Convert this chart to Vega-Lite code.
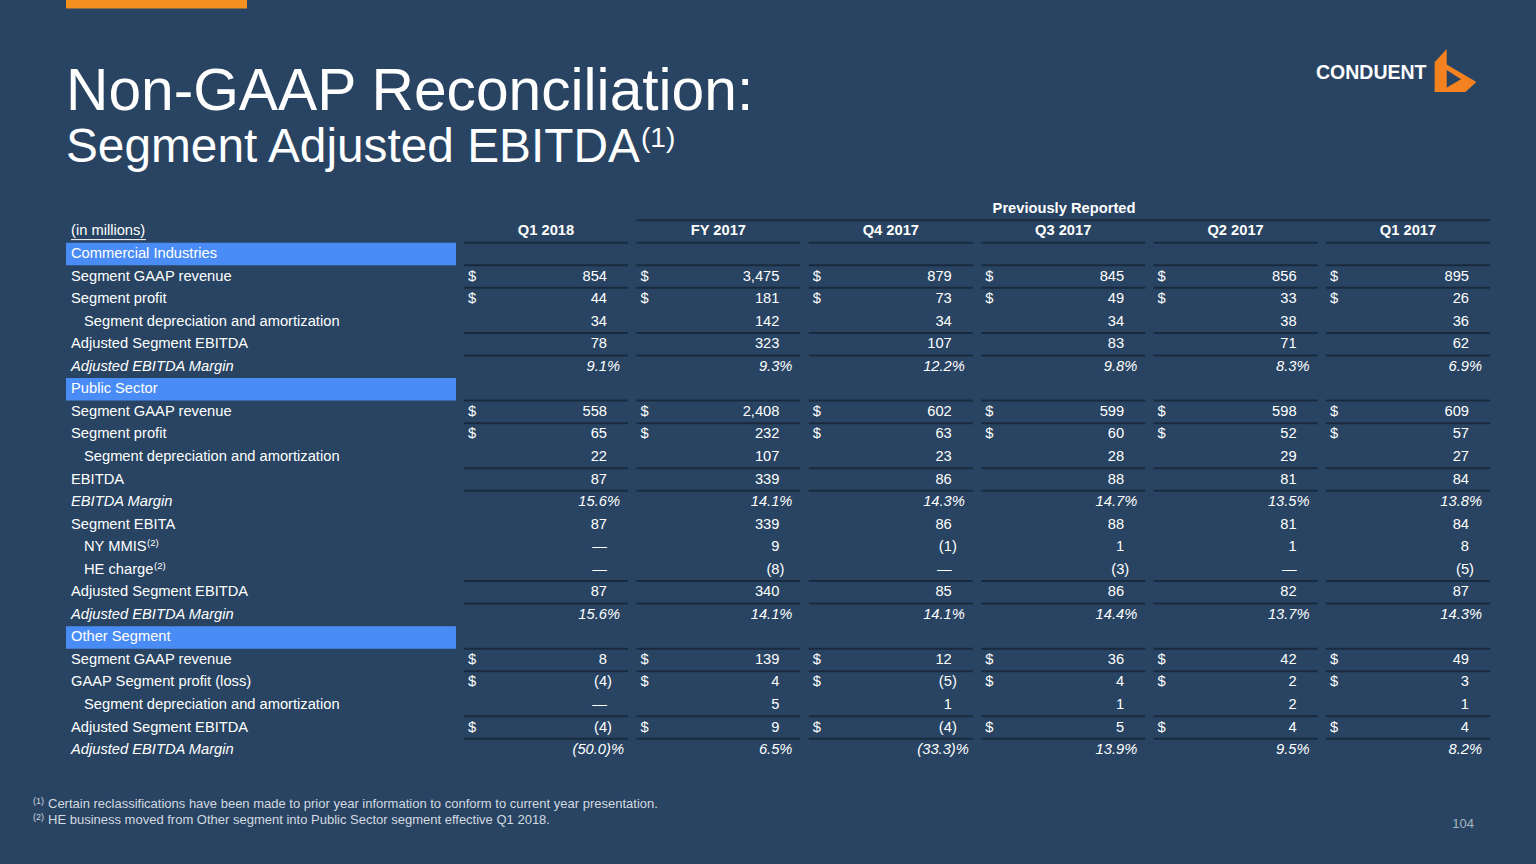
{
  "$schema": "https://vega.github.io/schema/vega-lite/v6.json",
  "width": 1536,
  "height": 864,
  "autosize": "none",
  "padding": 0,
  "background": "#284462",
  "config": {"view": {"stroke": null}, "text": {"font": "Liberation Sans"}},
  "datasets": {
    "rows": [
      {"label": "Commercial Industries", "kind": "head"},
      {"label": "Segment GAAP revenue", "kind": "item", "cur": "$", "Q1 2018": "854", "FY 2017": "3,475", "Q4 2017": "879", "Q3 2017": "845", "Q2 2017": "856", "Q1 2017": "895"},
      {"label": "Segment profit", "kind": "item", "cur": "$", "Q1 2018": "44", "FY 2017": "181", "Q4 2017": "73", "Q3 2017": "49", "Q2 2017": "33", "Q1 2017": "26"},
      {"label": "Segment depreciation and amortization", "kind": "sub", "Q1 2018": "34", "FY 2017": "142", "Q4 2017": "34", "Q3 2017": "34", "Q2 2017": "38", "Q1 2017": "36"},
      {"label": "Adjusted Segment EBITDA", "kind": "item", "Q1 2018": "78", "FY 2017": "323", "Q4 2017": "107", "Q3 2017": "83", "Q2 2017": "71", "Q1 2017": "62"},
      {"label": "Adjusted EBITDA Margin", "kind": "margin", "Q1 2018": "9.1%", "FY 2017": "9.3%", "Q4 2017": "12.2%", "Q3 2017": "9.8%", "Q2 2017": "8.3%", "Q1 2017": "6.9%"},
      {"label": "Public Sector", "kind": "head"},
      {"label": "Segment GAAP revenue", "kind": "item", "cur": "$", "Q1 2018": "558", "FY 2017": "2,408", "Q4 2017": "602", "Q3 2017": "599", "Q2 2017": "598", "Q1 2017": "609"},
      {"label": "Segment profit", "kind": "item", "cur": "$", "Q1 2018": "65", "FY 2017": "232", "Q4 2017": "63", "Q3 2017": "60", "Q2 2017": "52", "Q1 2017": "57"},
      {"label": "Segment depreciation and amortization", "kind": "sub", "Q1 2018": "22", "FY 2017": "107", "Q4 2017": "23", "Q3 2017": "28", "Q2 2017": "29", "Q1 2017": "27"},
      {"label": "EBITDA", "kind": "item", "Q1 2018": "87", "FY 2017": "339", "Q4 2017": "86", "Q3 2017": "88", "Q2 2017": "81", "Q1 2017": "84"},
      {"label": "EBITDA Margin", "kind": "margin", "Q1 2018": "15.6%", "FY 2017": "14.1%", "Q4 2017": "14.3%", "Q3 2017": "14.7%", "Q2 2017": "13.5%", "Q1 2017": "13.8%"},
      {"label": "Segment EBITA", "kind": "item", "Q1 2018": "87", "FY 2017": "339", "Q4 2017": "86", "Q3 2017": "88", "Q2 2017": "81", "Q1 2017": "84"},
      {"label": "NY MMIS", "fn": "(2)", "kind": "sub", "Q1 2018": "—", "FY 2017": "9", "Q4 2017": "(1)", "Q3 2017": "1", "Q2 2017": "1", "Q1 2017": "8"},
      {"label": "HE charge", "fn": "(2)", "kind": "sub", "Q1 2018": "—", "FY 2017": "(8)", "Q4 2017": "—", "Q3 2017": "(3)", "Q2 2017": "—", "Q1 2017": "(5)"},
      {"label": "Adjusted Segment EBITDA", "kind": "item", "Q1 2018": "87", "FY 2017": "340", "Q4 2017": "85", "Q3 2017": "86", "Q2 2017": "82", "Q1 2017": "87"},
      {"label": "Adjusted EBITDA Margin", "kind": "margin", "Q1 2018": "15.6%", "FY 2017": "14.1%", "Q4 2017": "14.1%", "Q3 2017": "14.4%", "Q2 2017": "13.7%", "Q1 2017": "14.3%"},
      {"label": "Other Segment", "kind": "head"},
      {"label": "Segment GAAP revenue", "kind": "item", "cur": "$", "Q1 2018": "8", "FY 2017": "139", "Q4 2017": "12", "Q3 2017": "36", "Q2 2017": "42", "Q1 2017": "49"},
      {"label": "GAAP Segment profit (loss)", "kind": "item", "cur": "$", "Q1 2018": "(4)", "FY 2017": "4", "Q4 2017": "(5)", "Q3 2017": "4", "Q2 2017": "2", "Q1 2017": "3"},
      {"label": "Segment depreciation and amortization", "kind": "sub", "Q1 2018": "—", "FY 2017": "5", "Q4 2017": "1", "Q3 2017": "1", "Q2 2017": "2", "Q1 2017": "1"},
      {"label": "Adjusted Segment EBITDA", "kind": "item", "cur": "$", "Q1 2018": "(4)", "FY 2017": "9", "Q4 2017": "(4)", "Q3 2017": "5", "Q2 2017": "4", "Q1 2017": "4"},
      {"label": "Adjusted EBITDA Margin", "kind": "margin", "Q1 2018": "(50.0)%", "FY 2017": "6.5%", "Q4 2017": "(33.3)%", "Q3 2017": "13.9%", "Q2 2017": "9.5%", "Q1 2017": "8.2%"}
    ],
    "cols": [{"col": "Q1 2018"}, {"col": "FY 2017"}, {"col": "Q4 2017"}, {"col": "Q3 2017"}, {"col": "Q2 2017"}, {"col": "Q1 2017"}],
    "notes": [
      {"n": 1, "fn": "(1)", "t": "Certain reclassifications have been made to prior year information to conform to current year presentation."},
      {"n": 2, "fn": "(2)", "t": "HE business moved from Other segment into Public Sector segment effective Q1 2018."}
    ]
  },
  "layer": [
    {
      "data": {"values": [{"k": "stripe"}]},
      "mark": {"type": "rule", "stroke": "#f39020", "strokeWidth": 9},
      "encoding": {
        "x": {"datum": -1.3086, "type": "quantitative", "scale": {"domain": [-1.6914, 7.2181], "nice": false, "zero": false}, "axis": null},
        "x2": {"datum": -0.2587},
        "y": {"datum": -10.09, "type": "quantitative", "scale": {"domain": [-10.266, 28.049], "reverse": true, "nice": false, "zero": false}, "axis": null}
      }
    },
    {
      "data": {"values": [{"t": "Non-GAAP Reconciliation:"}]},
      "mark": {"type": "text", "align": "left", "baseline": "alphabetic", "fontSize": 58.7, "color": "#ffffff"},
      "encoding": {
        "x": {"datum": -1.3086, "type": "quantitative", "scale": {"domain": [-1.6914, 7.2181], "nice": false, "zero": false}, "axis": null},
        "y": {"datum": -5.388, "type": "quantitative", "scale": {"domain": [-10.266, 28.049], "reverse": true, "nice": false, "zero": false}, "axis": null},
        "text": {"field": "t"}
      }
    },
    {
      "data": {"values": [{"t": "Segment Adjusted EBITDA"}]},
      "mark": {"type": "text", "align": "left", "baseline": "alphabetic", "fontSize": 47.8, "color": "#ffffff"},
      "encoding": {
        "x": {"datum": -1.3086, "type": "quantitative", "scale": {"domain": [-1.6914, 7.2181], "nice": false, "zero": false}, "axis": null},
        "y": {"datum": -3.082, "type": "quantitative", "scale": {"domain": [-10.266, 28.049], "reverse": true, "nice": false, "zero": false}, "axis": null},
        "text": {"field": "t"}
      }
    },
    {
      "data": {"values": [{"t": "(1)"}]},
      "mark": {"type": "text", "align": "left", "baseline": "alphabetic", "fontSize": 28, "color": "#ffffff"},
      "encoding": {
        "x": {"datum": 2.0267, "type": "quantitative", "scale": {"domain": [-1.6914, 7.2181], "nice": false, "zero": false}, "axis": null},
        "y": {"datum": -3.75, "type": "quantitative", "scale": {"domain": [-10.266, 28.049], "reverse": true, "nice": false, "zero": false}, "axis": null},
        "text": {"field": "t"}
      }
    },
    {
      "data": {"values": [{"t": "CONDUENT"}]},
      "mark": {"type": "text", "align": "left", "baseline": "middle", "fontSize": 19.5, "fontWeight": "bold", "color": "#ffffff"},
      "encoding": {
        "x": {"datum": 5.942, "type": "quantitative", "scale": {"domain": [-1.6914, 7.2181], "nice": false, "zero": false}, "axis": null},
        "y": {"datum": -7.03, "type": "quantitative", "scale": {"domain": [-10.266, 28.049], "reverse": true, "nice": false, "zero": false}, "axis": null},
        "text": {"field": "t"}
      }
    },
    {
      "data": {"values": [{"k": "logo"}]},
      "mark": {"type": "point", "filled": true, "color": "#f58220", "opacity": 1, "size": 1936, "shape": "M-0.95,-0.4L-0.4,-1L-0.4,-0.3L0.95,0.5L0.45,0.95L-0.95,0.95ZM-0.4,-0.05L-0.4,0.75L0.25,0.38Z"},
      "encoding": {
        "x": {"datum": 6.7512, "type": "quantitative", "scale": {"domain": [-1.6914, 7.2181], "nice": false, "zero": false}, "axis": null},
        "y": {"datum": -7.118, "type": "quantitative", "scale": {"domain": [-10.266, 28.049], "reverse": true, "nice": false, "zero": false}, "axis": null}
      }
    },
    {
      "data": {"values": [{"t": "Previously Reported"}]},
      "layer": [
        {
          "mark": {"type": "text", "align": "center", "baseline": "middle", "fontSize": 14.7, "fontWeight": "bold", "color": "#ffffff"},
          "encoding": {
            "x": {"datum": 4.4803, "type": "quantitative", "scale": {"domain": [-1.6914, 7.2181], "nice": false, "zero": false}, "axis": null},
            "y": {"datum": -1.0, "type": "quantitative", "scale": {"domain": [-10.266, 28.049], "reverse": true, "nice": false, "zero": false}, "axis": null},
            "text": {"field": "t"}
          }
        },
        {
          "mark": {"type": "rule", "stroke": "#1a2a3e", "strokeWidth": 2},
          "encoding": {
            "x": {"datum": 2, "type": "quantitative", "scale": {"domain": [-1.6914, 7.2181], "nice": false, "zero": false}, "axis": null},
            "x2": {"datum": 6.9513},
            "y": {"datum": -0.5, "type": "quantitative", "scale": {"domain": [-10.266, 28.049], "reverse": true, "nice": false, "zero": false}, "axis": null}
          }
        }
      ]
    },
    {
      "data": {"values": [{"t": "(in millions)"}]},
      "layer": [
        {
          "mark": {"type": "text", "align": "left", "baseline": "middle", "fontSize": 14.7, "color": "#ffffff"},
          "encoding": {
            "x": {"datum": -1.2796, "type": "quantitative", "scale": {"domain": [-1.6914, 7.2181], "nice": false, "zero": false}, "axis": null},
            "y": {"datum": 0, "type": "quantitative", "scale": {"domain": [-10.266, 28.049], "reverse": true, "nice": false, "zero": false}, "axis": null},
            "text": {"field": "t"}
          }
        },
        {
          "mark": {"type": "rule", "stroke": "#ffffff", "strokeWidth": 1},
          "encoding": {
            "x": {"datum": -1.2796, "type": "quantitative", "scale": {"domain": [-1.6914, 7.2181], "nice": false, "zero": false}, "axis": null},
            "x2": {"datum": -0.8445},
            "y": {"datum": 0.36, "type": "quantitative", "scale": {"domain": [-10.266, 28.049], "reverse": true, "nice": false, "zero": false}, "axis": null}
          }
        }
      ]
    },
    {
      "data": {"name": "cols"},
      "transform": [
        {"calculate": "indexof(['Q1 2018','FY 2017','Q4 2017','Q3 2017','Q2 2017','Q1 2017'], datum.col) + 1", "as": "ci"},
        {"calculate": "datum.ci + 0.9513", "as": "ce"}
      ],
      "layer": [
        {
          "mark": {"type": "text", "align": "center", "baseline": "middle", "dx": 82, "fontSize": 14.7, "fontWeight": "bold", "color": "#ffffff"},
          "encoding": {
            "x": {"field": "ci", "type": "quantitative", "scale": {"domain": [-1.6914, 7.2181], "nice": false, "zero": false}, "axis": null},
            "y": {"datum": 0, "type": "quantitative", "scale": {"domain": [-10.266, 28.049], "reverse": true, "nice": false, "zero": false}, "axis": null},
            "text": {"field": "col"}
          }
        },
        {
          "mark": {"type": "rule", "stroke": "#1a2a3e", "strokeWidth": 2},
          "encoding": {
            "x": {"field": "ci", "type": "quantitative", "scale": {"domain": [-1.6914, 7.2181], "nice": false, "zero": false}, "axis": null},
            "x2": {"field": "ce"},
            "y": {"datum": 0.5, "type": "quantitative", "scale": {"domain": [-10.266, 28.049], "reverse": true, "nice": false, "zero": false}, "axis": null}
          }
        }
      ]
    },
    {
      "data": {"name": "rows"},
      "transform": [
        {"window": [{"op": "row_number", "as": "r"}, {"op": "lead", "field": "kind", "as": "nk"}]},
        {"fold": ["Q1 2018", "FY 2017", "Q4 2017", "Q3 2017", "Q2 2017", "Q1 2017"], "as": ["col", "v"]},
        {"calculate": "indexof(['Q1 2018','FY 2017','Q4 2017','Q3 2017','Q2 2017','Q1 2017'], datum.col) + 1", "as": "ci"},
        {"calculate": "datum.ci + 0.9513", "as": "ce"},
        {"calculate": "datum.r + 0.5", "as": "rb"}
      ],
      "layer": [
        {
          "transform": [{"filter": "datum.col == 'Q1 2018' && datum.kind == 'head'"}],
          "mark": {"type": "rule", "stroke": "#4a8cf5", "strokeWidth": 22.5},
          "encoding": {
            "x": {"datum": -1.3086, "type": "quantitative", "scale": {"domain": [-1.6914, 7.2181], "nice": false, "zero": false}, "axis": null},
            "x2": {"datum": 0.9536},
            "y": {"field": "r", "type": "quantitative", "scale": {"domain": [-10.266, 28.049], "reverse": true, "nice": false, "zero": false}, "axis": null}
          }
        },
        {
          "transform": [{"filter": "datum.kind != 'margin' && datum.nk != 'sub' && datum.nk != null"}],
          "mark": {"type": "rule", "stroke": "#1a2a3e", "strokeWidth": 2},
          "encoding": {
            "x": {"field": "ci", "type": "quantitative", "scale": {"domain": [-1.6914, 7.2181], "nice": false, "zero": false}, "axis": null},
            "x2": {"field": "ce"},
            "y": {"field": "rb", "type": "quantitative", "scale": {"domain": [-10.266, 28.049], "reverse": true, "nice": false, "zero": false}, "axis": null}
          }
        },
        {
          "transform": [{"filter": "datum.col == 'Q1 2018' && (datum.kind == 'head' || datum.kind == 'item')"}],
          "mark": {"type": "text", "align": "left", "baseline": "middle", "fontSize": 14.7, "color": "#ffffff"},
          "encoding": {
            "x": {"datum": -1.2796, "type": "quantitative", "scale": {"domain": [-1.6914, 7.2181], "nice": false, "zero": false}, "axis": null},
            "y": {"field": "r", "type": "quantitative", "scale": {"domain": [-10.266, 28.049], "reverse": true, "nice": false, "zero": false}, "axis": null},
            "text": {"field": "label"}
          }
        },
        {
          "transform": [{"filter": "datum.col == 'Q1 2018' && datum.kind == 'sub'"}],
          "mark": {"type": "text", "align": "left", "baseline": "middle", "dx": 13, "fontSize": 14.7, "color": "#ffffff"},
          "encoding": {
            "x": {"datum": -1.2796, "type": "quantitative", "scale": {"domain": [-1.6914, 7.2181], "nice": false, "zero": false}, "axis": null},
            "y": {"field": "r", "type": "quantitative", "scale": {"domain": [-10.266, 28.049], "reverse": true, "nice": false, "zero": false}, "axis": null},
            "text": {"field": "label"}
          }
        },
        {
          "transform": [{"filter": "datum.col == 'Q1 2018' && datum.label == 'NY MMIS'"}],
          "mark": {"type": "text", "align": "left", "baseline": "middle", "dy": -4, "fontSize": 9.5, "color": "#ffffff"},
          "encoding": {
            "x": {"datum": -0.8387, "type": "quantitative", "scale": {"domain": [-1.6914, 7.2181], "nice": false, "zero": false}, "axis": null},
            "y": {"field": "r", "type": "quantitative", "scale": {"domain": [-10.266, 28.049], "reverse": true, "nice": false, "zero": false}, "axis": null},
            "text": {"field": "fn"}
          }
        },
        {
          "transform": [{"filter": "datum.col == 'Q1 2018' && datum.label == 'HE charge'"}],
          "mark": {"type": "text", "align": "left", "baseline": "middle", "dy": -4, "fontSize": 9.5, "color": "#ffffff"},
          "encoding": {
            "x": {"datum": -0.7981, "type": "quantitative", "scale": {"domain": [-1.6914, 7.2181], "nice": false, "zero": false}, "axis": null},
            "y": {"field": "r", "type": "quantitative", "scale": {"domain": [-10.266, 28.049], "reverse": true, "nice": false, "zero": false}, "axis": null},
            "text": {"field": "fn"}
          }
        },
        {
          "transform": [{"filter": "datum.col == 'Q1 2018' && datum.kind == 'margin'"}],
          "mark": {"type": "text", "align": "left", "baseline": "middle", "fontSize": 14.7, "fontStyle": "italic", "color": "#ffffff"},
          "encoding": {
            "x": {"datum": -1.2796, "type": "quantitative", "scale": {"domain": [-1.6914, 7.2181], "nice": false, "zero": false}, "axis": null},
            "y": {"field": "r", "type": "quantitative", "scale": {"domain": [-10.266, 28.049], "reverse": true, "nice": false, "zero": false}, "axis": null},
            "text": {"field": "label"}
          }
        },
        {
          "transform": [{"filter": "datum.cur == '$'"}],
          "mark": {"type": "text", "align": "left", "baseline": "middle", "dx": 4, "fontSize": 14.7, "color": "#ffffff"},
          "encoding": {
            "x": {"field": "ci", "type": "quantitative", "scale": {"domain": [-1.6914, 7.2181], "nice": false, "zero": false}, "axis": null},
            "y": {"field": "r", "type": "quantitative", "scale": {"domain": [-10.266, 28.049], "reverse": true, "nice": false, "zero": false}, "axis": null},
            "text": {"field": "cur"}
          }
        },
        {
          "transform": [{"filter": "isValid(datum.v) && slice(datum.v, -1) != ')' && slice(datum.v, -1) != '%'"}],
          "mark": {"type": "text", "align": "right", "baseline": "middle", "dx": 143, "fontSize": 14.7, "color": "#ffffff"},
          "encoding": {
            "x": {"field": "ci", "type": "quantitative", "scale": {"domain": [-1.6914, 7.2181], "nice": false, "zero": false}, "axis": null},
            "y": {"field": "r", "type": "quantitative", "scale": {"domain": [-10.266, 28.049], "reverse": true, "nice": false, "zero": false}, "axis": null},
            "text": {"field": "v"}
          }
        },
        {
          "transform": [{"filter": "isValid(datum.v) && slice(datum.v, -1) == ')'"}],
          "mark": {"type": "text", "align": "right", "baseline": "middle", "dx": 148, "fontSize": 14.7, "color": "#ffffff"},
          "encoding": {
            "x": {"field": "ci", "type": "quantitative", "scale": {"domain": [-1.6914, 7.2181], "nice": false, "zero": false}, "axis": null},
            "y": {"field": "r", "type": "quantitative", "scale": {"domain": [-10.266, 28.049], "reverse": true, "nice": false, "zero": false}, "axis": null},
            "text": {"field": "v"}
          }
        },
        {
          "transform": [{"filter": "isValid(datum.v) && slice(datum.v, -1) == '%' && slice(datum.v, -2) != ')%'"}],
          "mark": {"type": "text", "align": "right", "baseline": "middle", "dx": 156, "fontSize": 14.7, "fontStyle": "italic", "color": "#ffffff"},
          "encoding": {
            "x": {"field": "ci", "type": "quantitative", "scale": {"domain": [-1.6914, 7.2181], "nice": false, "zero": false}, "axis": null},
            "y": {"field": "r", "type": "quantitative", "scale": {"domain": [-10.266, 28.049], "reverse": true, "nice": false, "zero": false}, "axis": null},
            "text": {"field": "v"}
          }
        },
        {
          "transform": [{"filter": "isValid(datum.v) && slice(datum.v, -2) == ')%'"}],
          "mark": {"type": "text", "align": "right", "baseline": "middle", "dx": 160, "fontSize": 14.7, "fontStyle": "italic", "color": "#ffffff"},
          "encoding": {
            "x": {"field": "ci", "type": "quantitative", "scale": {"domain": [-1.6914, 7.2181], "nice": false, "zero": false}, "axis": null},
            "y": {"field": "r", "type": "quantitative", "scale": {"domain": [-10.266, 28.049], "reverse": true, "nice": false, "zero": false}, "axis": null},
            "text": {"field": "v"}
          }
        }
      ]
    },
    {
      "data": {"name": "notes"},
      "transform": [{"calculate": "datum.n == 1 ? 25.39 : 26.1", "as": "fy"}],
      "layer": [
        {
          "mark": {"type": "text", "align": "left", "baseline": "middle", "dy": -3, "fontSize": 9, "color": "#d3d9e0"},
          "encoding": {
            "x": {"datum": -1.5, "type": "quantitative", "scale": {"domain": [-1.6914, 7.2181], "nice": false, "zero": false}, "axis": null},
            "y": {"field": "fy", "type": "quantitative", "scale": {"domain": [-10.266, 28.049], "reverse": true, "nice": false, "zero": false}, "axis": null},
            "text": {"field": "fn"}
          }
        },
        {
          "mark": {"type": "text", "align": "left", "baseline": "middle", "fontSize": 13, "color": "#d3d9e0"},
          "encoding": {
            "x": {"datum": -1.413, "type": "quantitative", "scale": {"domain": [-1.6914, 7.2181], "nice": false, "zero": false}, "axis": null},
            "y": {"field": "fy", "type": "quantitative", "scale": {"domain": [-10.266, 28.049], "reverse": true, "nice": false, "zero": false}, "axis": null},
            "text": {"field": "t"}
          }
        }
      ]
    },
    {
      "data": {"values": [{"t": "104"}]},
      "mark": {"type": "text", "align": "right", "baseline": "middle", "fontSize": 13, "color": "#aab4c0"},
      "encoding": {
        "x": {"datum": 6.8585, "type": "quantitative", "scale": {"domain": [-1.6914, 7.2181], "nice": false, "zero": false}, "axis": null},
        "y": {"datum": 26.28, "type": "quantitative", "scale": {"domain": [-10.266, 28.049], "reverse": true, "nice": false, "zero": false}, "axis": null},
        "text": {"field": "t"}
      }
    }
  ]
}
